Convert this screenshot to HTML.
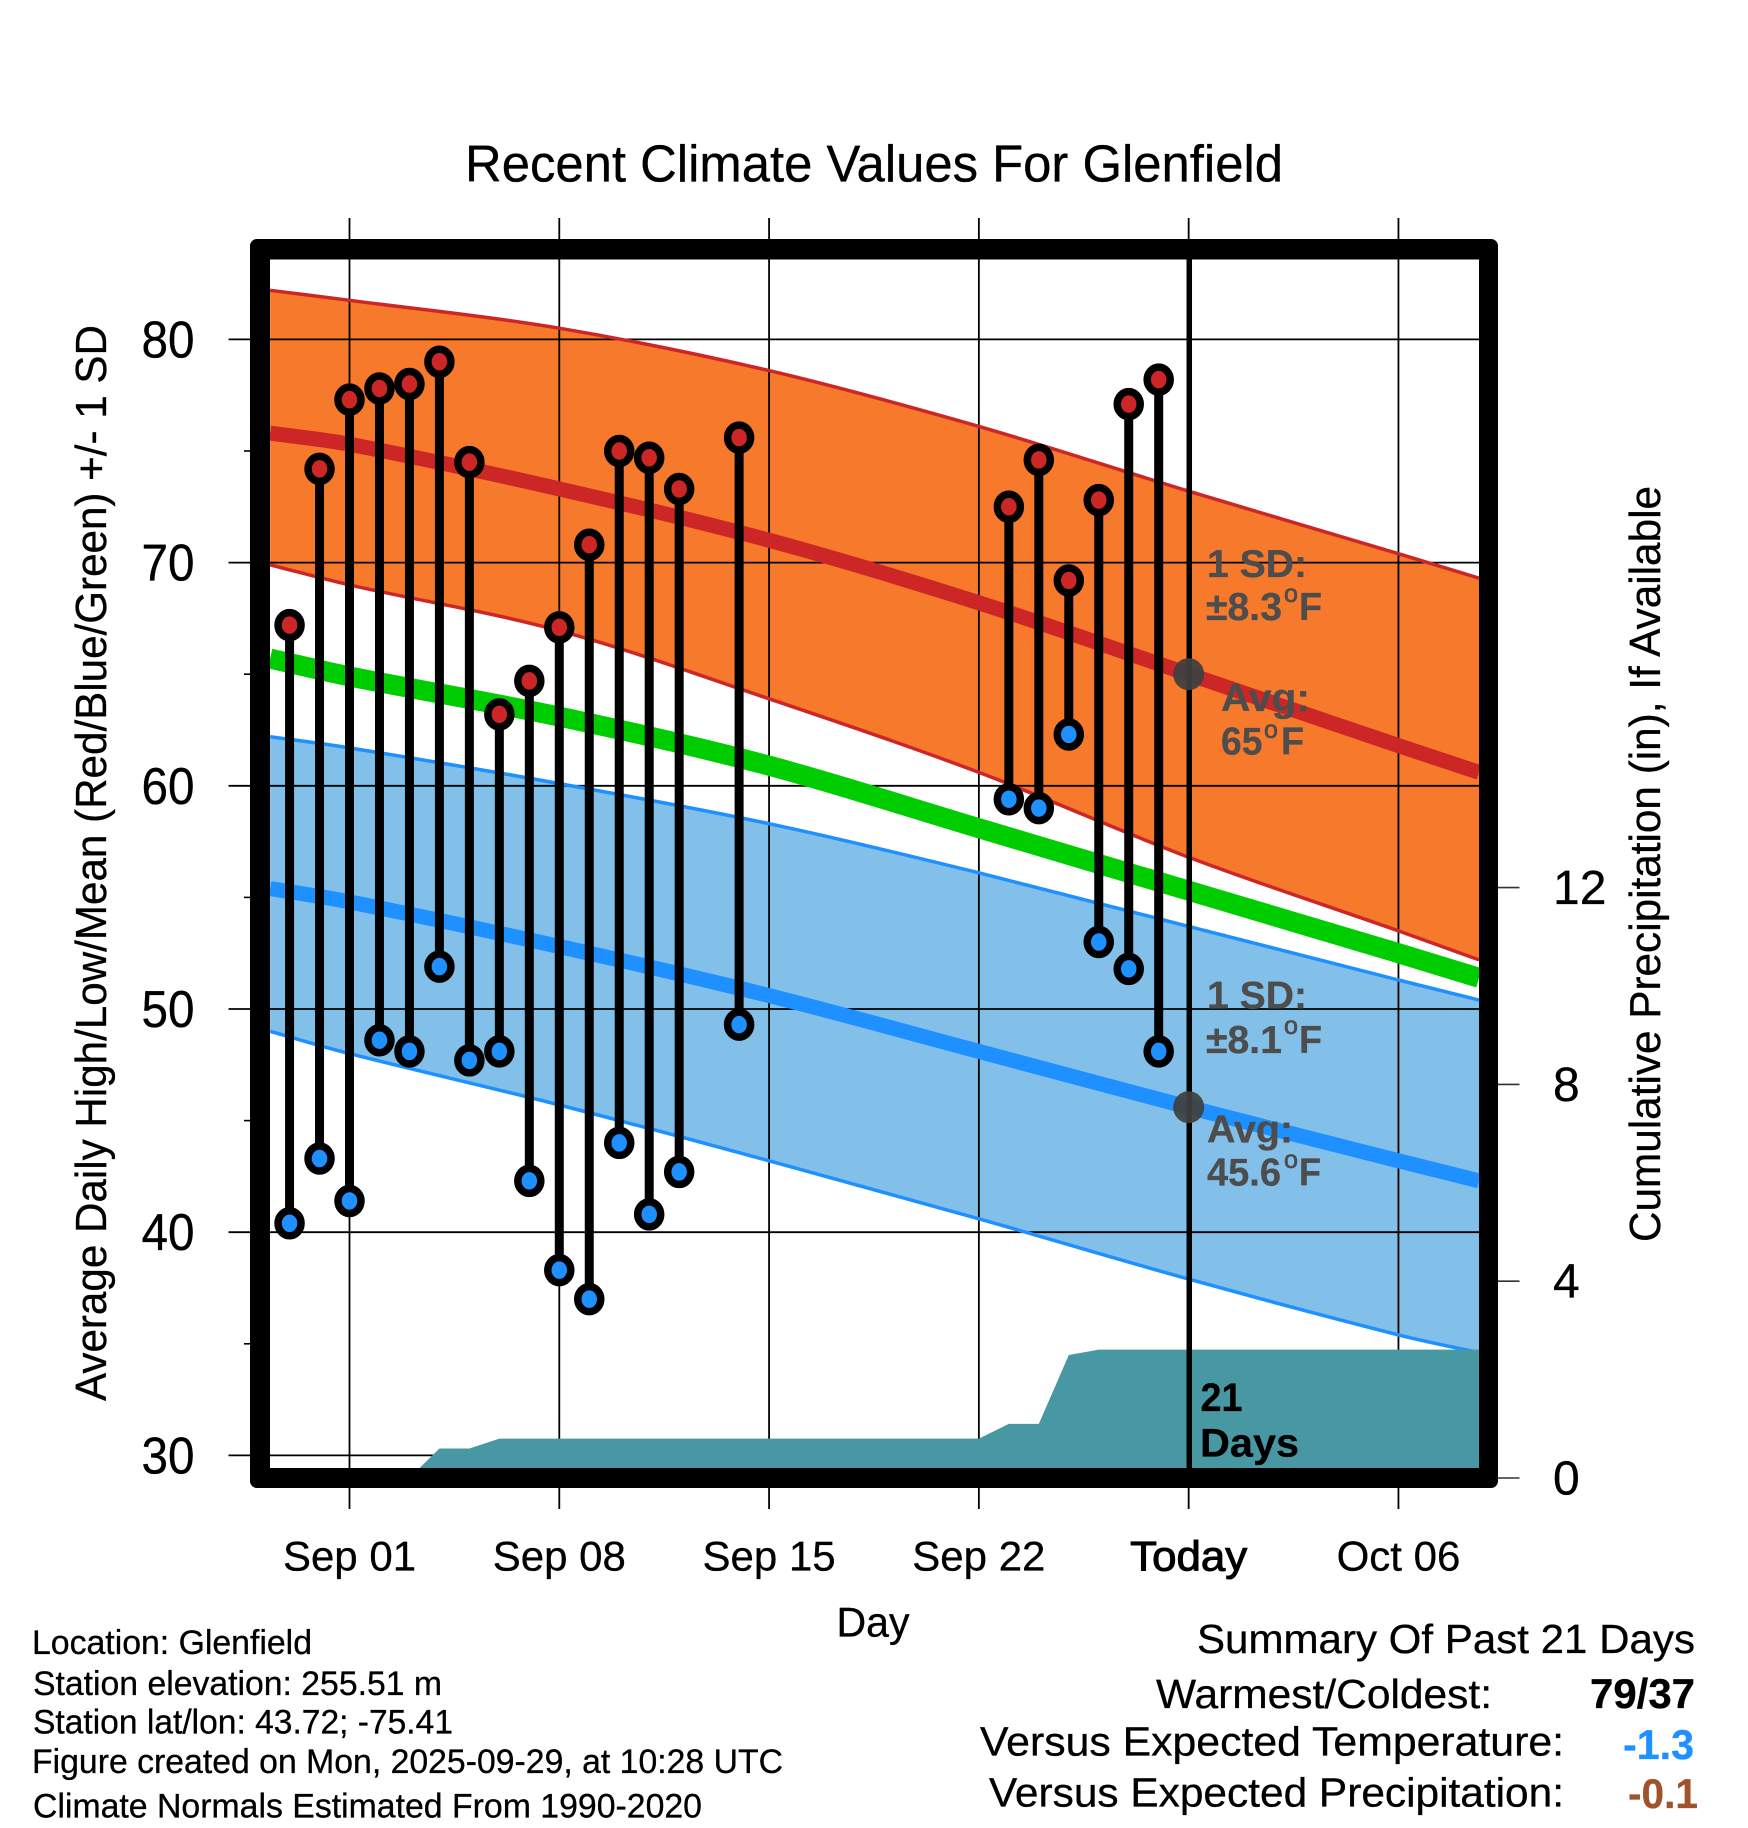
<!DOCTYPE html>
<html lang="en">
<head>
<meta charset="utf-8">
<title>Recent Climate Values For Glenfield</title>
<style>
html,body{margin:0;padding:0;background:#fff}
svg{display:block}
text{font-family:"Liberation Sans",sans-serif;fill:#000;stroke:#000;stroke-width:.3px}
.ann{font-weight:bold;fill:#4d4d4d;stroke:#4d4d4d;font-size:39px}
.sup{font-weight:normal;fill:#4d4d4d;font-size:25px;stroke:#4d4d4d;stroke-width:.7px}
.foot{font-size:34px}
.sum{font-size:41px}
.sumv{font-size:42px;font-weight:bold}
</style>
</head>
<body>
<svg id="chart" xmlns="http://www.w3.org/2000/svg" width="1748" height="1828" viewBox="0 0 1748 1828">
<defs><clipPath id="plot-clip"><rect x="270" y="259" width="1209" height="1209"/></clipPath></defs>
<rect x="0" y="0" width="1748" height="1828" fill="#fff"/>
<g id="marks"></g>
<path d="M257 239H1491a7 7 0 0 1 7 7V1481a7 7 0 0 1-7 7H257a7 7 0 0 1-7-7V246a7 7 0 0 1 7-7ZM270 259.500V1468H1479V259.500Z" fill="#000" fill-rule="evenodd"/>
<g id="ticks"></g>

<text x="465" y="181.500" font-size="52" textLength="818" lengthAdjust="spacingAndGlyphs">Recent Climate Values For Glenfield</text>
<text transform="translate(106 1401) rotate(-90)" font-size="44" textLength="1076" lengthAdjust="spacingAndGlyphs">Average Daily High/Low/Mean (Red/Blue/Green) +/- 1 SD</text>
<text transform="translate(1660 1242) rotate(-90)" font-size="44" textLength="756" lengthAdjust="spacingAndGlyphs">Cumulative Precipitation (in), If Available</text>
<text x="836.500" y="1636.700" font-size="42" textLength="73" lengthAdjust="spacingAndGlyphs">Day</text>

<text class="ann" x="1207" y="577" textLength="100" lengthAdjust="spacingAndGlyphs">1 SD:</text>
<text class="ann" x="1206" y="620" textLength="76" lengthAdjust="spacingAndGlyphs">±8.3</text>
<text class="sup" x="1284" y="602">o</text>
<text class="ann" x="1299" y="620" textLength="23" lengthAdjust="spacingAndGlyphs">F</text>
<text class="ann" x="1221" y="711" textLength="89" lengthAdjust="spacingAndGlyphs">Avg:</text>
<text class="ann" x="1221" y="754.600" textLength="41.500" lengthAdjust="spacingAndGlyphs">65</text>
<text class="sup" x="1264" y="738">o</text>
<text class="ann" x="1281" y="754.600" textLength="23" lengthAdjust="spacingAndGlyphs">F</text>

<text class="ann" x="1207" y="1008.500" textLength="100" lengthAdjust="spacingAndGlyphs">1 SD:</text>
<text class="ann" x="1206" y="1053" textLength="76" lengthAdjust="spacingAndGlyphs">±8.1</text>
<text class="sup" x="1284" y="1034">o</text>
<text class="ann" x="1299" y="1053" textLength="23" lengthAdjust="spacingAndGlyphs">F</text>
<text class="ann" x="1207" y="1142.400" textLength="86" lengthAdjust="spacingAndGlyphs">Avg:</text>
<text class="ann" x="1207" y="1185.700" textLength="74" lengthAdjust="spacingAndGlyphs">45.6</text>
<text class="sup" x="1284" y="1168">o</text>
<text class="ann" x="1299" y="1185.700" textLength="22" lengthAdjust="spacingAndGlyphs">F</text>

<text x="1200.500" y="1411" font-size="40" font-weight="bold" textLength="42" lengthAdjust="spacingAndGlyphs">21</text>
<text x="1200" y="1456.700" font-size="40" font-weight="bold" textLength="99" lengthAdjust="spacingAndGlyphs">Days</text>

<text class="foot" x="32" y="1654" textLength="280" lengthAdjust="spacingAndGlyphs">Location: Glenfield</text>
<text class="foot" x="33" y="1695" textLength="409" lengthAdjust="spacingAndGlyphs">Station elevation: 255.51 m</text>
<text class="foot" x="33" y="1733.300" textLength="420" lengthAdjust="spacingAndGlyphs">Station lat/lon: 43.72; -75.41</text>
<text class="foot" x="32" y="1773" textLength="751" lengthAdjust="spacingAndGlyphs">Figure created on Mon, 2025-09-29, at 10:28 UTC</text>
<text class="foot" x="33" y="1817.300" textLength="669" lengthAdjust="spacingAndGlyphs">Climate Normals Estimated From 1990-2020</text>

<text class="sum" x="1197" y="1653" textLength="498" lengthAdjust="spacingAndGlyphs">Summary Of Past 21 Days</text>
<text class="sum" x="1156" y="1708" textLength="336" lengthAdjust="spacingAndGlyphs">Warmest/Coldest:</text>
<text class="sumv" x="1590" y="1708" textLength="105" lengthAdjust="spacingAndGlyphs">79/37</text>
<text class="sum" x="980" y="1755.700" textLength="584" lengthAdjust="spacingAndGlyphs">Versus Expected Temperature:</text>
<text class="sumv" x="1623" y="1759" textLength="71" lengthAdjust="spacingAndGlyphs" style="fill:#1e90ff;stroke:#1e90ff">-1.3</text>
<text class="sum" x="989" y="1806.700" textLength="575" lengthAdjust="spacingAndGlyphs">Versus Expected Precipitation:</text>
<text class="sumv" x="1628" y="1808" textLength="70" lengthAdjust="spacingAndGlyphs" style="fill:#a0522d;stroke:#a0522d">-0.1</text>
</svg>
<script>
// Days are counted from Sep 01 (0). Temperatures in deg F, precipitation in inches.
const climateDays = [-2.65, 0, 7, 14, 21, 28, 35, 37.69];
const highUpper = [82.2, 81.75, 80.5, 78.6, 76.1, 73.2, 70.4, 69.3];
const highMean = [75.8, 75.3, 73.3, 71.0, 68.2, 65.0, 61.8, 60.6];
const highLower = [69.9, 69.0, 66.95, 63.9, 60.6, 56.8, 53.5, 52.2];
const overallMean = [65.7, 64.9, 63.1, 60.9, 58.1, 55.3, 52.5, 51.4];
const lowUpper = [62.2, 61.7, 60.1, 58.3, 56.1, 53.7, 51.3, 50.4];
const lowMean = [55.4, 54.8, 52.8, 50.6, 48.1, 45.6, 43.2, 42.3];
const lowLower = [49.0, 48.0, 45.7, 43.2, 40.6, 37.9, 35.4, 34.6];

const observedDays = [-2, -1, 0, 1, 2, 3, 4, 5, 6, 7, 8, 9, 10, 11, 13, 22, 23, 24, 25, 26, 27];
const observedHighs = [67.2, 74.2, 77.3, 77.8, 78.0, 79.0, 74.5, 63.2, 64.7, 67.1, 70.8, 75.0, 74.7, 73.3, 75.6, 72.5, 74.6, 69.2, 72.8, 77.1, 78.2];
const observedLows = [40.4, 43.3, 41.4, 48.6, 48.1, 51.9, 47.7, 48.1, 42.3, 38.3, 37.0, 44.0, 40.8, 42.7, 49.3, 59.4, 59.0, 62.3, 53.0, 51.8, 48.1];

const precipDays = [2, 3, 4, 5, 21, 22, 23, 24, 25, 37.69];
const precipValues = [0, 0.6, 0.6, 0.8, 0.8, 1.1, 1.1, 2.5, 2.61, 2.61];

const xTickDays = [0, 7, 14, 21, 28, 35];
const xTickLabels = ['Sep 01', 'Sep 08', 'Sep 15', 'Sep 22', 'Today', 'Oct 06'];
const yMajorTicks = [30, 40, 50, 60, 70, 80];
const yMinorTicks = [35, 45, 55, 65, 75];
const precipTicks = [0, 4, 8, 12];
const todayDay = 28;
const todayHighAvg = 65;
const todayLowAvg = 45.6;

function xScale(day) { return 349.5 + day * 29.97; }
function yScale(temp) { return 339.4 + (80 - temp) * 22.32; }
function pScale(inches) { return 1478 - inches * 49.2; }

const SVGNS = 'http://www.w3.org/2000/svg';
const marks = document.getElementById('marks');
const tickLayer = document.getElementById('ticks');

function make(parent, tag, attrs, content) {
  const el = document.createElementNS(SVGNS, tag);
  Object.keys(attrs).forEach(function (k) { el.setAttribute(k, attrs[k]); });
  if (content !== undefined) el.textContent = content;
  parent.appendChild(el);
  return el;
}
// Smooth curve through a series: cubic segments with tangents from neighbouring points.
function curveSegments(days, vals, backward) {
  let pts = days.map(function (d, i) { return [xScale(d), yScale(vals[i])]; });
  const n = pts.length;
  const slopes = pts.map(function (p, i) {
    const a = pts[Math.max(0, i - 1)];
    const b = pts[Math.min(n - 1, i + 1)];
    return (b[1] - a[1]) / (b[0] - a[0]);
  });
  let order = pts.map(function (p, i) { return i; });
  if (backward) order = order.reverse();
  let out = '';
  for (let k = 1; k < n; k++) {
    const p0 = pts[order[k - 1]];
    const p1 = pts[order[k]];
    const dx = (p1[0] - p0[0]) / 3;
    const s0 = slopes[order[k - 1]];
    const s1 = slopes[order[k]];
    out += 'C' + (p0[0] + dx).toFixed(1) + ' ' + (p0[1] + s0 * dx).toFixed(1) + ' ' +
      (p1[0] - dx).toFixed(1) + ' ' + (p1[1] - s1 * dx).toFixed(1) + ' ' +
      p1[0].toFixed(1) + ' ' + p1[1].toFixed(1);
  }
  return out;
}
function startPoint(days, vals, index) {
  return xScale(days[index]).toFixed(1) + ' ' + yScale(vals[index]).toFixed(1);
}
function linePath(days, vals) {
  return 'M' + startPoint(days, vals, 0) + curveSegments(days, vals, false);
}
function bandPath(days, upper, lower) {
  return linePath(days, upper) + 'L' + startPoint(days, lower, days.length - 1) + curveSegments(days, lower, true) + 'Z';
}

const plot = make(marks, 'g', { 'clip-path': 'url(#plot-clip)' });



const highBand = make(plot, 'path', { d: bandPath(climateDays, highUpper, highLower), fill: '#f7792c' });



const lowBand = make(plot, 'path', { d: bandPath(climateDays, lowUpper, lowLower), fill: '#83c0e9' });



// Gridlines, drawn above the bands, beyond the frame as tick marks.
yMajorTicks.forEach(function (t) {
  const g = make(marks, 'line', { x1: 228.5, x2: 1479, y1: yScale(t), y2: yScale(t), stroke: '#000', 'stroke-width': 1.8 });
  
  
});
xTickDays.forEach(function (d) {
  const g = make(marks, 'line', { x1: xScale(d), x2: xScale(d), y1: 218, y2: 1509, stroke: '#000', 'stroke-width': 1.8 });
  
  
});

const overlay = make(marks, 'g', { 'clip-path': 'url(#plot-clip)' });



function seriesLine(vals, color, width) {
  return make(overlay, 'path', { d: linePath(climateDays, vals), fill: 'none', stroke: color, 'stroke-width': width, 'stroke-linejoin': 'round' });
}
const highUpperLine = seriesLine(highUpper, '#cd2626', 3.5);


const highLowerLine = seriesLine(highLower, '#cd2626', 3.5);


const lowUpperLine = seriesLine(lowUpper, '#1e90ff', 3.5);


const lowLowerLine = seriesLine(lowLower, '#1e90ff', 3.5);


const highMeanLine = seriesLine(highMean, '#cd2626', 15);


const overallMeanLine = seriesLine(overallMean, '#00cd00', 20);


const lowMeanLine = seriesLine(lowMean, '#1e90ff', 15);



const precipPts = precipDays.map(function (d, i) { return xScale(d).toFixed(1) + ',' + pScale(precipValues[i]).toFixed(1); });
precipPts.push(xScale(precipDays[precipDays.length - 1]).toFixed(1) + ',' + pScale(0).toFixed(1));
const precipArea = make(overlay, 'polygon', { points: precipPts.join(' '), fill: '#4898a4' });



observedDays.forEach(function (d, i) {
  const stem = make(overlay, 'line', { x1: xScale(d), x2: xScale(d), y1: yScale(observedHighs[i]), y2: yScale(observedLows[i]), stroke: '#000', 'stroke-width': 9 });
  
  
  const hi = make(overlay, 'ellipse', { cx: xScale(d), cy: yScale(observedHighs[i]), rx: 11.5, ry: 12.5, fill: '#cd2626', stroke: '#000', 'stroke-width': 7.5 });
  
  
  const lo = make(overlay, 'ellipse', { cx: xScale(d), cy: yScale(observedLows[i]), rx: 11.5, ry: 12.5, fill: '#1e90ff', stroke: '#000', 'stroke-width': 7.5 });
  
  
});

const todayLine = make(overlay, 'line', { x1: xScale(todayDay) + 0.6, x2: xScale(todayDay) + 0.6, y1: 255, y2: 1470, stroke: '#000', 'stroke-width': 5.5 });



const todayHighDot = make(overlay, 'ellipse', { cx: xScale(todayDay), cy: yScale(todayHighAvg), rx: 15.5, ry: 16, fill: '#3f3f3f', 'fill-opacity': 0.93 });


const todayLowDot = make(overlay, 'ellipse', { cx: xScale(todayDay), cy: yScale(todayLowAvg), rx: 15.5, ry: 16, fill: '#3f3f3f', 'fill-opacity': 0.93 });



// Tick labels and minor ticks
yMajorTicks.forEach(function (t) {
  const lab = make(tickLayer, 'text', { x: 194.5, y: yScale(t) + 18, 'font-size': 52, 'text-anchor': 'end', textLength: 53, lengthAdjust: 'spacingAndGlyphs' }, String(t));
  
  
});
yMinorTicks.forEach(function (t) {
  const m = make(tickLayer, 'line', { x1: 244, x2: 251, y1: yScale(t), y2: yScale(t), stroke: '#000', 'stroke-width': 1.6 });
  
  
});
xTickDays.forEach(function (d, i) {
  const today = xTickLabels[i] === 'Today';
  const lab = make(tickLayer, 'text', { x: xScale(d), y: 1570.5, 'font-size': 42, 'text-anchor': 'middle' }, xTickLabels[i]);
  if (today) { lab.setAttribute('stroke-width', '1'); lab.setAttribute('textLength', '117'); lab.setAttribute('lengthAdjust', 'spacingAndGlyphs'); lab.style.strokeWidth = '1px'; }
  
  
});
precipTicks.forEach(function (p) {
  const t = make(tickLayer, 'line', { x1: 1498, x2: 1519.5, y1: pScale(p), y2: pScale(p), stroke: '#333', 'stroke-width': 1.6 });
  
  
  const lab = make(tickLayer, 'text', { x: 1553, y: pScale(p) + 16.5, 'font-size': 48 }, String(p));
  
  
});
</script>
</body>
</html>
